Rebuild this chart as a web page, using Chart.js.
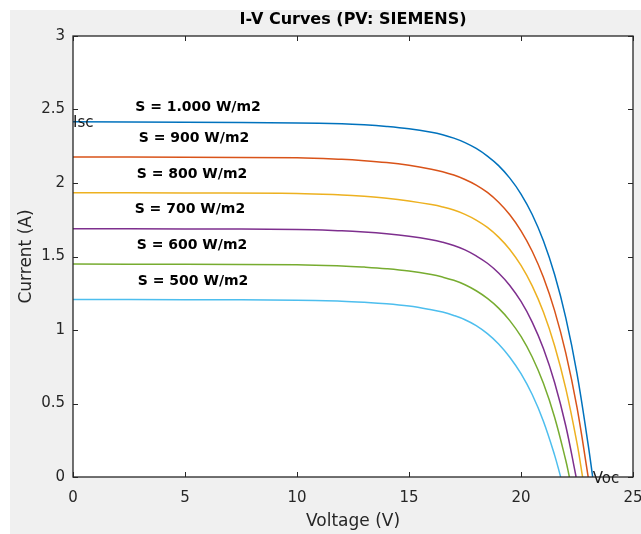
<!DOCTYPE html>
<html>
<head>
<meta charset="utf-8">
<script src="https://cdn.jsdelivr.net/npm/chart.js@4"></script>
<style>
  html, body { margin: 0; padding: 0; background: #fff; }
  #wrap { width: 641px; height: 534px; }
</style>
</head>
<body>
<div id="wrap"><canvas id="chart" width="641" height="534"></canvas></div>
<script>
// I-V curves (voltage in V, current in A)
const voltageS1000 = [0, 5, 10, 12, 13, 14, 15, 16, 16.5, 17, 17.5, 18, 18.5, 19, 19.5, 20, 20.5, 21, 21.5, 22, 22.5, 23, 23.2];
const currentS1000 = [2.417, 2.414, 2.409, 2.403, 2.396, 2.385, 2.369, 2.345, 2.328, 2.305, 2.275, 2.235, 2.183, 2.118, 2.033, 1.925, 1.786, 1.607, 1.377, 1.083, 0.704, 0.218, 0];

const voltageS900 = [0, 5, 10, 12, 13, 14, 15, 16, 16.5, 17, 17.5, 18, 18.5, 19, 19.5, 20, 20.5, 21, 21.5, 22, 22.5, 23.0];
const currentS900 = [2.177, 2.175, 2.171, 2.161, 2.152, 2.139, 2.120, 2.094, 2.077, 2.054, 2.024, 1.986, 1.936, 1.869, 1.784, 1.675, 1.536, 1.359, 1.132, 0.843, 0.473, 0];

const voltageS800 = [0, 5, 10, 12, 13, 14, 15, 16, 16.5, 17, 17.5, 18, 18.5, 19, 19.5, 20, 20.5, 21, 21.5, 22, 22.5, 22.75];
const currentS800 = [1.934, 1.932, 1.929, 1.919, 1.910, 1.897, 1.878, 1.853, 1.837, 1.816, 1.787, 1.748, 1.698, 1.632, 1.548, 1.439, 1.300, 1.122, 0.893, 0.601, 0.230, 0];

const voltageS700 = [0, 5, 10, 12, 13, 14, 15, 16, 16.5, 17, 17.5, 18, 18.5, 19, 19.5, 20, 20.5, 21, 21.5, 22, 22.46];
const currentS700 = [1.689, 1.687, 1.684, 1.675, 1.667, 1.655, 1.638, 1.614, 1.597, 1.575, 1.545, 1.504, 1.454, 1.388, 1.303, 1.194, 1.054, 0.874, 0.643, 0.347, 0];

const voltageS600 = [0, 5, 10, 12, 13, 14, 15, 16, 16.5, 17, 17.5, 18, 18.5, 19, 19.5, 20, 20.5, 21, 21.5, 22, 22.16];
const currentS600 = [1.449, 1.447, 1.444, 1.436, 1.428, 1.417, 1.401, 1.377, 1.360, 1.338, 1.308, 1.267, 1.215, 1.149, 1.064, 0.956, 0.816, 0.637, 0.407, 0.112, 0];

const voltageS500 = [0, 5, 10, 12, 13, 14, 15, 16, 16.5, 17, 17.5, 18, 18.5, 19, 19.5, 20, 20.5, 21, 21.5, 21.77];
const currentS500 = [1.208, 1.206, 1.203, 1.196, 1.189, 1.179, 1.163, 1.138, 1.122, 1.099, 1.070, 1.030, 0.975, 0.905, 0.815, 0.703, 0.561, 0.380, 0.149, 0];

const seriesLabels = ['S = 1.000 W/m2', 'S = 900 W/m2', 'S = 800 W/m2', 'S = 700 W/m2', 'S = 600 W/m2', 'S = 500 W/m2'];
const xTicks = [0, 5, 10, 15, 20, 25];
const yTicks = [0, 0.5, 1, 1.5, 2, 2.5, 3];

// text labels placed in data coordinates, like MATLAB text()
const curveNotes = [
    { text: 'S = 1.000 W/m2', x: 5.58, y: 2.517 },
    { text: 'S = 900 W/m2', x: 5.40, y: 2.306 },
    { text: 'S = 800 W/m2', x: 5.31, y: 2.061 },
    { text: 'S = 700 W/m2', x: 5.22, y: 1.823 },
    { text: 'S = 600 W/m2', x: 5.31, y: 1.573 },
    { text: 'S = 500 W/m2', x: 5.36, y: 1.329 }
];

const colors = ['#0072BD', '#D95319', '#EDB120', '#7E2F8E', '#77AC30', '#4DBEEE'];
const volts = [voltageS1000, voltageS900, voltageS800, voltageS700, voltageS600, voltageS500];
const amps = [currentS1000, currentS900, currentS800, currentS700, currentS600, currentS500];

const datasets = seriesLabels.map((label, i) => ({
    label: label,
    data: volts[i].map((v, k) => ({ x: v, y: amps[i][k] })),
    borderColor: colors[i],
    borderWidth: 1.5,
    pointRadius: 0,
    fill: false,
    tension: 0.4
}));

const AXIS = '#262626';

const matlabFrame = {
    id: 'matlabFrame',
    beforeDraw(chart) {
        const { ctx, chartArea: a } = chart;
        ctx.save();
        ctx.fillStyle = '#ffffff';
        ctx.fillRect(0, 0, chart.width, chart.height);
        ctx.fillStyle = '#f0f0f0';
        ctx.fillRect(10, 10, chart.width - 10, chart.height - 10);
        ctx.fillStyle = '#ffffff';
        ctx.fillRect(a.left, a.top, a.right - a.left, a.bottom - a.top);
        ctx.restore();
    },
    afterDraw(chart) {
        const { ctx, chartArea: a, scales } = chart;
        const xs = scales.x, ys = scales.y;
        ctx.save();
        ctx.strokeStyle = AXIS;
        ctx.lineWidth = 1.3;
        ctx.strokeRect(a.left, a.top, a.right - a.left, a.bottom - a.top);
        // inward ticks on all four sides
        ctx.lineWidth = 1;
        ctx.beginPath();
        xTicks.forEach(t => {
            const px = Math.round(xs.getPixelForValue(t)) + 0.5;
            ctx.moveTo(px, a.bottom); ctx.lineTo(px, a.bottom - 5);
            ctx.moveTo(px, a.top); ctx.lineTo(px, a.top + 5);
        });
        yTicks.forEach(t => {
            const py = Math.round(ys.getPixelForValue(t)) + 0.5;
            ctx.moveTo(a.left, py); ctx.lineTo(a.left + 5, py);
            ctx.moveTo(a.right, py); ctx.lineTo(a.right - 5, py);
        });
        ctx.stroke();

        // title
        ctx.fillStyle = '#000';
        ctx.font = 'bold 16px "DejaVu Sans"';
        ctx.textAlign = 'center';
        ctx.textBaseline = 'middle';
        ctx.fillText('I-V Curves (PV: SIEMENS)', (a.left + a.right) / 2, 20);

        // curve labels
        ctx.font = 'bold 14px "DejaVu Sans"';
        curveNotes.forEach(n => {
            ctx.fillText(n.text, xs.getPixelForValue(n.x), ys.getPixelForValue(n.y));
        });

        // Isc / Voc markers
        ctx.font = '15px "DejaVu Sans"';
        ctx.textAlign = 'left';
        ctx.fillStyle = '#1a1a1a';
        ctx.fillText('Isc', xs.getPixelForValue(0), ys.getPixelForValue(currentS1000[0]) + 1);
        ctx.fillText('Voc', xs.getPixelForValue(voltageS1000[voltageS1000.length - 1]), ys.getPixelForValue(0) + 2);
        ctx.restore();
    }
};

const ctx = document.getElementById('chart').getContext('2d');
const ivChart = new Chart(ctx, {
    type: 'line',
    data: { datasets: datasets },
    options: {
        responsive: false,
        animation: false,
        events: [],
        layout: { padding: { top: 36, left: 0, right: 0, bottom: 0 } },
        plugins: {
            legend: { display: false },
            tooltip: { enabled: false },
            title: { display: false }
        },
        scales: {
            x: {
                type: 'linear',
                min: 0,
                max: 25,
                grid: { display: false, drawTicks: false },
                border: { display: false },
                afterBuildTicks: s => { s.ticks = xTicks.map(v => ({ value: v })); },
                afterFit: s => { s.height = 57; s.paddingLeft = 0; s.paddingRight = 8; },
                ticks: {
                    padding: 12,
                    color: AXIS,
                    font: { family: 'DejaVu Sans', size: 15 },
                    maxRotation: 0,
                    callback: v => String(v)
                },
                title: {
                    display: true,
                    text: 'Voltage (V)',
                    color: AXIS,
                    font: { family: 'DejaVu Sans', size: 17 },
                    padding: { top: 0, bottom: 2 }
                }
            },
            y: {
                type: 'linear',
                min: 0,
                max: 3,
                grid: { display: false, drawTicks: false },
                border: { display: false },
                afterBuildTicks: s => { s.ticks = yTicks.map(v => ({ value: v })); },
                afterFit: s => { s.width = 73; s.paddingTop = 0; s.paddingBottom = 0; },
                ticks: {
                    padding: 8,
                    color: AXIS,
                    font: { family: 'DejaVu Sans', size: 15 },
                    callback: v => String(v)
                },
                title: {
                    display: true,
                    text: 'Current (A)',
                    color: AXIS,
                    font: { family: 'DejaVu Sans', size: 17 },
                    padding: { top: 16, bottom: 0 }
                }
            }
        }
    },
    plugins: [matlabFrame]
});
</script>
</body>
</html>
